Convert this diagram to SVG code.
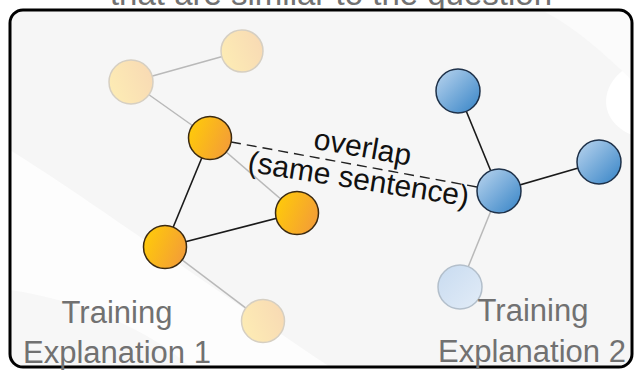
<svg xmlns="http://www.w3.org/2000/svg" width="634" height="371" viewBox="0 0 634 371">
<defs>
<linearGradient id="gOr" x1="0" y1="0.3" x2="1" y2="0.7"><stop offset="0" stop-color="#ffca0a"/><stop offset="1" stop-color="#f39c38"/></linearGradient>
<linearGradient id="gOrF" x1="0" y1="0.7" x2="1" y2="0.3"><stop offset="0" stop-color="#fdecb4"/><stop offset="1" stop-color="#f8dab4"/></linearGradient>
<linearGradient id="gBl" x1="0" y1="0" x2="1" y2="1"><stop offset="0" stop-color="#bcd6ef"/><stop offset="1" stop-color="#3583c6"/></linearGradient>
<linearGradient id="gBlF" x1="0" y1="0" x2="1" y2="1"><stop offset="0" stop-color="#c8dbf0"/><stop offset="1" stop-color="#e2ecf7"/></linearGradient>
<style>
.or{fill:url(#gOr);stroke:#3b2a12;stroke-width:1.5}
.orf{fill:url(#gOrF);stroke:#d6cfc2;stroke-width:1.5}
.bl{fill:url(#gBl);stroke:#1e3149;stroke-width:1.5}
.blf{fill:url(#gBlF);stroke:#b3bfcb;stroke-width:1.5}
.eg{stroke:#b9b9b9;stroke-width:1.5;fill:none}
.ek{stroke:#1a1a1a;stroke-width:1.6;fill:none}
.ed{stroke:#222;stroke-width:1.4;fill:none;stroke-dasharray:10 6}
.gt{font-family:"Liberation Sans",Arial,sans-serif;font-size:31px;fill:#717171;text-anchor:middle}
.lb{font-family:"Liberation Sans",Arial,sans-serif;font-size:30px;fill:#111;text-anchor:middle}
</style>
</defs>
<rect width="634" height="371" fill="#ffffff"/>
<text class="gt" x="331" y="5" style="font-size:33px">that are similar to the question</text>
<g id="frame">
<rect x="10" y="10" width="622" height="357" rx="13" fill="#f6f6f6"/>
<path d="M10,150 C90,200 200,280 330,367 L10,367 Z" fill="#fdfdfd"/>
<path d="M10,290 C80,300 150,330 190,367 L10,367 Z" fill="#f7f7f7"/>
<path d="M632,65 C600,80 595,120 632,135 Z" fill="#ffffff"/>
<path d="M545,12 C580,30 610,60 632,80 L632,12 Z" fill="#fbfbfb"/>
<rect x="10" y="10" width="622" height="357" rx="13" fill="none" stroke="#000" stroke-width="3"/>
</g>
<g id="connectors">
<line class="eg" x1="131" y1="82" x2="242" y2="51"/>
<line class="eg" x1="131" y1="82" x2="210" y2="138"/>
<line class="eg" x1="210" y1="138" x2="297" y2="213"/>
<line class="eg" x1="165" y1="247" x2="263" y2="321"/>
<line class="eg" x1="499" y1="191" x2="460" y2="287"/>
<line class="ek" x1="210" y1="138" x2="165" y2="247"/>
<line class="ek" x1="165" y1="247" x2="297" y2="213"/>
<line class="ek" x1="458" y1="91" x2="499" y2="191"/>
<line class="ek" x1="499" y1="191" x2="599" y2="162"/>
<line class="ed" x1="231" y1="142" x2="477" y2="187"/>
</g>
<g id="overlap-label">
<text class="lb" transform="translate(361,157) rotate(10)">overlap</text>
<text class="lb" transform="translate(357,189) rotate(9)">(same sentence)</text>
</g>
<g id="nodeA"><circle class="orf" cx="131" cy="82" r="22"/></g>
<g id="nodeB"><circle class="orf" cx="242" cy="51" r="21"/></g>
<g id="nodeC"><circle class="or" cx="210" cy="138" r="21.5"/></g>
<g id="nodeD"><circle class="or" cx="297" cy="213" r="21.5"/></g>
<g id="nodeE"><circle class="or" cx="165" cy="247" r="21.5"/></g>
<g id="nodeF"><circle class="orf" cx="263" cy="321" r="21.5"/></g>
<g id="nodeG"><circle class="bl" cx="458" cy="91" r="22"/></g>
<g id="nodeH"><circle class="bl" cx="499" cy="191" r="22"/></g>
<g id="nodeI"><circle class="bl" cx="599" cy="162" r="22"/></g>
<g id="nodeJ"><circle class="blf" cx="460" cy="287" r="22"/></g>
<g id="label1"><text class="gt" x="117" y="323">Training</text><text class="gt" x="117" y="363">Explanation 1</text></g>
<g id="label2"><text class="gt" x="533" y="321">Training</text><text class="gt" x="532" y="362">Explanation 2</text></g>
</svg>
